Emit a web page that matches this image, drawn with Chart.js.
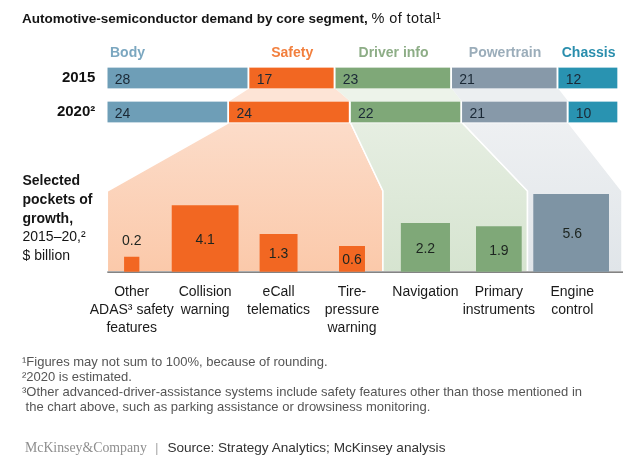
<!DOCTYPE html>
<html>
<head>
<meta charset="utf-8">
<script src="https://cdn.jsdelivr.net/npm/chart.js@4.4.1/dist/chart.umd.min.js"></script>
<style>
  html, body { margin: 0; padding: 0; background: #fff; }
  #page { position: relative; width: 640px; height: 464px; overflow: hidden;
          font-family: "Liberation Sans", Arial, sans-serif; color: #151515; }
  #page canvas { position: absolute; left: 0; }
  .t { position: absolute; white-space: nowrap; }
  .title { left: 22px; top: 10px; font-size: 13.5px; line-height: 16px; }
  .title span { font-size: 14.5px; letter-spacing: 0.4px; }
  .side { left: 22.5px; top: 171px; font-size: 14px; line-height: 18.75px; }
  .notes { left: 22px; top: 353.7px; font-size: 13px; line-height: 15px; color: #555; }
  .src { left: 25px; top: 440px; font-size: 13.6px; line-height: 15px; color: #333; }
  .mck { font-family: "Liberation Serif", "Times New Roman", serif; font-size: 13.8px; color: #8e8e8e; }
  .bar { color: #aaa; margin: 0 9px 0 8px; }
</style>
</head>
<body>
<div id="page">
  <canvas id="funnels" width="640" height="464" style="top:0"></canvas>
  <canvas id="shareChart" width="640" height="110" style="top:40px"></canvas>
  <canvas id="growthChart" width="640" height="205" style="top:140px"></canvas>

  <div class="t title"><b>Automotive-semiconductor demand by core segment,</b> <span>% of total¹</span></div>
  <div class="t side"><b>Selected<br>pockets of<br>growth,</b><br>2015–20,²<br>$ billion</div>
  <div class="t notes">¹Figures may not sum to 100%, because of rounding.<br>²2020 is estimated.<br>³Other advanced-driver-assistance systems include safety features other than those mentioned in<br>&nbsp;the chart above, such as parking assistance or drowsiness monitoring.</div>
  <div class="t src"><span class="mck">McKinsey&amp;Company</span><span class="bar">|</span>Source: Strategy Analytics; McKinsey analysis</div>
</div>

<script>
// share of demand by core segment, % of total
const years = ["2015", "2020²"];
const segments = ["Body", "Safety", "Driver info", "Powertrain", "Chassis"];
const share2015 = [28, 17, 23, 21, 12];
const share2020 = [24, 24, 22, 21, 10];

// selected pockets of growth 2015-20, $ billion
const pockets = [
  ["Other", "ADAS³ safety", "features"],
  ["Collision", "warning"],
  ["eCall", "telematics"],
  ["Tire-", "pressure", "warning"],
  ["Navigation"],
  ["Primary", "instruments"],
  ["Engine", "control"]
];
const growth = [0.2, 4.1, 1.3, 0.6, 2.2, 1.9, 5.6];
const pocketSegment = [1, 1, 1, 1, 2, 2, 3]; // index into segments

const segColors = ["#6e9eb7", "#f26722", "#7fa878", "#8799a9", "#2993b1"];
const segTextColors = ["#7ba7c0", "#f27f3d", "#8dad86", "#9badba", "#2a8ead"];
const pocketColors = ["#f26722", "#f26722", "#f26722", "#f26722", "#7fa878", "#7fa878", "#7e94a4"];
const funnelFill = {
  1: { bridge: "#fde4d6", top: "#fcdcc9", bottom: "#fbc9aa" },
  2: { bridge: "#edf3ea", top: "#e6eee2", bottom: "#d6e4d0" },
  3: { bridge: "#eceff1", top: "#eef0f2", bottom: "#e0e5e9" }
};

const FONT = '"Liberation Sans", Arial, sans-serif';
Chart.defaults.font.family = FONT;
Chart.defaults.color = "#151515";

const totalShare = Math.max(
  share2015.reduce((a, b) => a + b, 0),
  share2020.reduce((a, b) => a + b, 0)
);

// numbers inside the segments + segment names above the 2015 row
const shareLabels = {
  id: "shareLabels",
  afterDatasetsDraw(chart) {
    const ctx = chart.ctx;
    ctx.save();
    chart.data.datasets.forEach((ds, k) => {
      const meta = chart.getDatasetMeta(k);
      meta.data.forEach((bar, i) => {
        const left = Math.min(bar.base, bar.x);
        ctx.font = "14px " + FONT;
        ctx.fillStyle = "#1b2936";
        ctx.textAlign = "left";
        ctx.textBaseline = "alphabetic";
        ctx.fillText(ds.data[i], left + 7.5, bar.y + 5.5);
      });
      const b = meta.data[0];
      const left = Math.min(b.base, b.x), right = Math.max(b.base, b.x);
      ctx.font = "bold 14px " + FONT;
      ctx.fillStyle = segTextColors[k];
      ctx.textAlign = k === 0 ? "left" : "center";
      const x = k === 0 ? left + 2.7 : (left + right) / 2;
      ctx.fillText(ds.label, x, b.y - b.height / 2 - 10.5);
    });
    ctx.restore();
  }
};

const shareChart = new Chart(document.getElementById("shareChart"), {
  type: "bar",
  data: {
    labels: years,
    datasets: segments.map((s, k) => ({
      label: s,
      data: [share2015[k], share2020[k]],
      backgroundColor: segColors[k],
      borderColor: "#ffffff",
      borderWidth: { left: 0, right: 2, top: 0, bottom: 0 },
      borderSkipped: false,
      barThickness: 21
    }))
  },
  options: {
    indexAxis: "y",
    responsive: false,
    animation: false,
    layout: { padding: { left: 10, right: 21, top: 20, bottom: 6 } },
    plugins: { legend: { display: false }, tooltip: { enabled: false } },
    scales: {
      x: { stacked: true, min: 0, max: totalShare, display: false },
      y: {
        stacked: true,
        grid: { display: false, drawTicks: false },
        border: { display: false },
        ticks: { font: { size: 15, weight: "bold" }, color: "#111", padding: 12 },
        afterFit(scale) { scale.width = 97.3; }
      }
    }
  },
  plugins: [shareLabels]
});

// value labels: inside the square, or above it when it is too small
const growthLabels = {
  id: "growthLabels",
  afterDatasetsDraw(chart) {
    const ctx = chart.ctx;
    ctx.save();
    ctx.font = "14px " + FONT;
    ctx.fillStyle = "#1d2520";
    ctx.textAlign = "center";
    ctx.textBaseline = "middle";
    growth.forEach((v, i) => {
      const el = chart.getDatasetMeta(i).data[i];
      const h = el.base - el.y;
      const y = h > 24 ? (el.y + el.base) / 2 + 1.5 : el.y - 16;
      ctx.fillText(v.toFixed(1), el.x, y);
    });
    ctx.restore();
  }
};

// each pocket is a square whose area stands for its value
const growthChart = new Chart(document.getElementById("growthChart"), {
  type: "bar",
  data: {
    labels: pockets,
    datasets: growth.map((v, i) => ({
      label: pockets[i].join(" "),
      data: growth.map((w, j) => (j === i ? Math.sqrt(w) : null)),
      backgroundColor: pocketColors[i],
      grouped: false,
      barThickness: (c) => {
        const y = c.chart.scales.y;
        return y.getPixelForValue(0) - y.getPixelForValue(Math.sqrt(v));
      }
    }))
  },
  options: {
    responsive: false,
    animation: false,
    layout: { padding: { left: 95, right: 31, top: 50, bottom: 0 } },
    plugins: { legend: { display: false }, tooltip: { enabled: false } },
    scales: {
      x: {
        grid: { display: false, drawTicks: false },
        border: { display: false },
        ticks: { font: { size: 14, lineHeight: "18px" }, color: "#1a1a1a", padding: 11, maxRotation: 0, autoSkip: false },
        afterFit(scale) { scale.height = 73.3; }
      },
      y: { min: 0, max: 2.5, display: false }
    }
  },
  plugins: [growthLabels]
});

// shaded links from the 2015/2020 segments down to their pockets
function drawFunnels() {
  const c = document.getElementById("funnels").getContext("2d");
  const topOff = 40, botOff = 140;
  const area = shareChart.chartArea;
  const baseY = growthChart.scales.y.getPixelForValue(0) + botOff;
  const shoulderY = growthChart.chartArea.top + botOff + 1;
  const groups = [...new Set(pocketSegment)];
  const edge = (i) => {
    const el = growthChart.getDatasetMeta(i).data[i];
    return [el.x - el.width / 2, el.x + el.width / 2];
  };
  const rowBox = (k, row) => {
    const b = shareChart.getDatasetMeta(k).data[row];
    return { l: Math.min(b.base, b.x), r: Math.max(b.base, b.x),
             t: b.y - b.height / 2 + topOff, b: b.y + b.height / 2 + topOff };
  };
  groups.forEach((s, g) => {
    const idx = pocketSegment.map((p, i) => (p === s ? i : -1)).filter((i) => i >= 0);
    const first = edge(idx[0]), last = edge(idx[idx.length - 1]);
    let left = area.left, right = area.right + 3;
    if (g > 0) {
      const prev = pocketSegment.lastIndexOf(groups[g - 1]);
      left = (edge(prev)[1] + first[0]) / 2;
    }
    if (g < groups.length - 1) {
      const next = pocketSegment.indexOf(groups[g + 1]);
      right = (last[1] + edge(next)[0]) / 2;
    }
    const a = rowBox(s, 0), b = rowBox(s, 1);
    const fill = funnelFill[s];
    c.lineWidth = 1.5;
    c.strokeStyle = "#ffffff";
    // between the two rows
    c.beginPath();
    c.moveTo(a.l, a.b); c.lineTo(a.r, a.b); c.lineTo(b.r, b.t); c.lineTo(b.l, b.t);
    c.closePath();
    c.fillStyle = fill.bridge;
    c.fill();
    // from the 2020 row down to the pockets
    const grad = c.createLinearGradient(0, b.b, 0, baseY);
    grad.addColorStop(0, fill.top);
    grad.addColorStop(1, fill.bottom);
    c.beginPath();
    c.moveTo(b.l, b.b); c.lineTo(b.r, b.b); c.lineTo(right, shoulderY);
    c.lineTo(right, baseY); c.lineTo(left, baseY); c.lineTo(left, shoulderY);
    c.closePath();
    c.fillStyle = grad;
    c.fill();
    c.stroke();
  });
  c.beginPath();
  c.moveTo(area.left, baseY + 0.5);
  c.lineTo(area.right + 4, baseY + 0.5);
  c.strokeStyle = "#5a5a5a";
  c.lineWidth = 1.2;
  c.stroke();
}
drawFunnels();
</script>
</body>
</html>
